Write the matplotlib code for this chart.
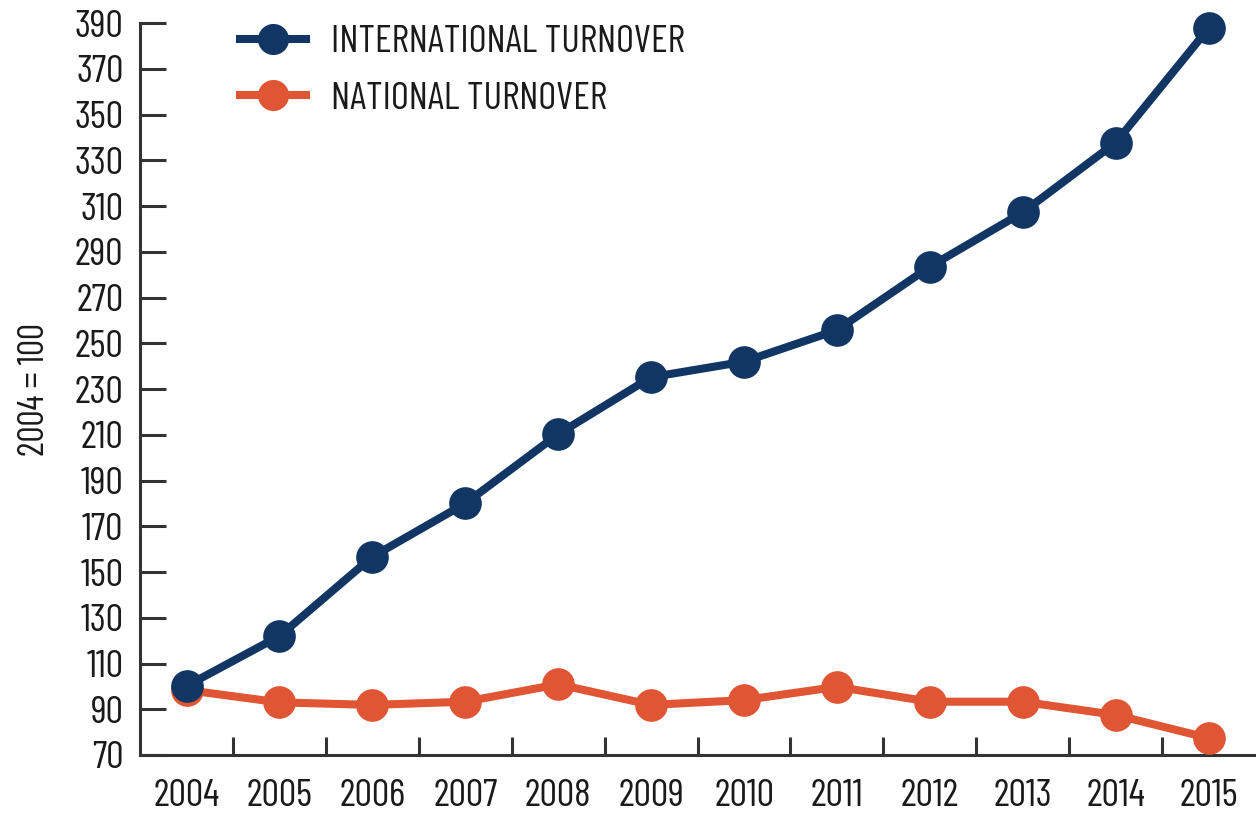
import matplotlib
matplotlib.use("Agg")
import matplotlib.pyplot as plt
import numpy as np

# values (index 2004 = 100)
years = ['2004', '2005', '2006', '2007', '2008', '2009',
         '2010', '2011', '2012', '2013', '2014', '2015']
international = [100.2, 122, 156.7, 180, 210.3, 235.2,
                 242, 255.8, 283.5, 307.3, 337.8, 387.8]
national = [98.4, 93, 91.9, 93.3, 100.9, 91.9,
            94, 99.8, 93.3, 93.3, 87.5, 77.4]
y_ticks = list(range(70, 391, 20))

BLUE = '#113663'
ORANGE = '#E05533'
AXIS = '#333333'
TEXT = '#1a1a1a'

plt.rcParams['font.family'] = ['Barlow Condensed', 'DejaVu Sans']


def plot_turnover():
    fig = plt.figure(figsize=(12.56, 8.14), dpi=100)
    ax = fig.add_axes([0.1115, 0.0725, 0.8885, 0.899])
    x = np.arange(len(years))

    ax.plot(x, national, color=ORANGE, lw=5.8, marker='o', ms=22.5,
            label='NATIONAL TURNOVER', clip_on=False, zorder=3)
    ax.plot(x, international, color=BLUE, lw=5.8, marker='o', ms=22.5,
            label='INTERNATIONAL TURNOVER', clip_on=False, zorder=4)

    ax.set_xlim(-0.5, len(years) - 0.49)
    ax.set_ylim(70, 390)
    ax.set_yticks(y_ticks)
    ax.set_xticks(x)
    ax.set_xticklabels(years)
    ax.set_xticks(x[:-1] + 0.5, minor=True)

    for s in ['top', 'right']:
        ax.spines[s].set_visible(False)
    for s in ['left', 'bottom']:
        ax.spines[s].set_color(AXIS)
        ax.spines[s].set_linewidth(2.2)

    ax.tick_params(axis='y', direction='in', length=19, width=2.2,
                   color=AXIS, labelsize=28, labelcolor=TEXT, pad=12)
    ax.tick_params(axis='x', which='major', length=0, labelsize=28,
                   labelcolor=TEXT, pad=17)
    ax.tick_params(axis='x', which='minor', direction='in', length=13,
                   width=2.2, color=AXIS)

    ax.set_ylabel('2004 = 100', fontsize=26, color=TEXT, labelpad=17)

    handles, labels = ax.get_legend_handles_labels()
    ax.legend(handles[::-1], labels[::-1], loc='upper left',
              bbox_to_anchor=(0.058, 1.045), frameon=False, fontsize=28,
              handlelength=1.7, handletextpad=0.65, labelspacing=0.55,
              markerscale=0.95, labelcolor=TEXT)

    fig.savefig('out.png', dpi=100)


if __name__ == "__main__":
    plot_turnover()
